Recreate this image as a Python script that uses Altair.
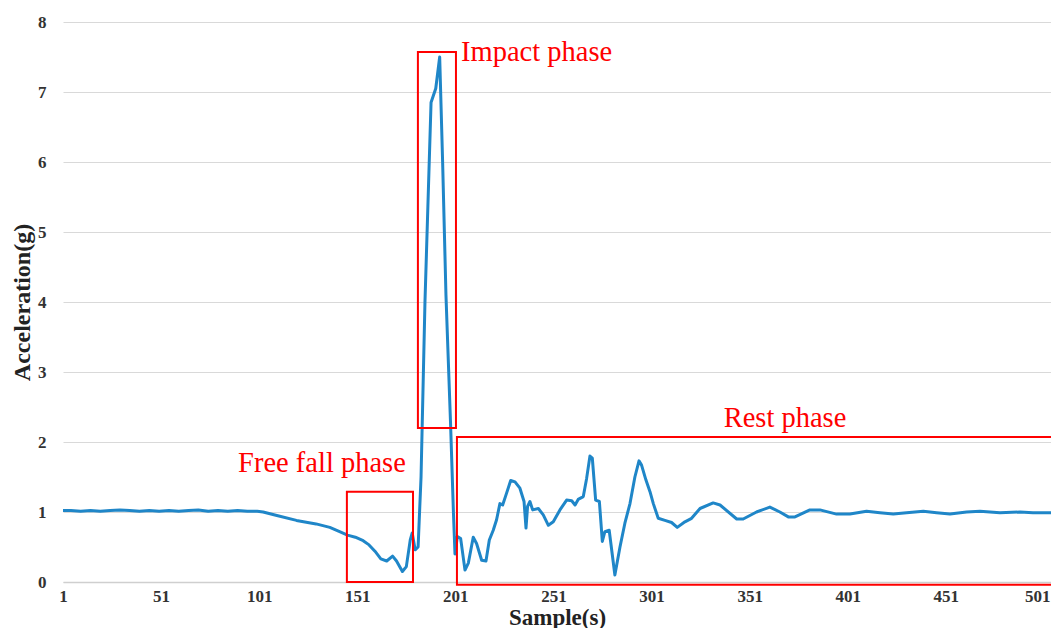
import altair as alt
import pandas as pd

# ---- data ----
samples = [1, 5, 10, 15, 20, 25, 30, 35, 40, 45, 50, 55, 60, 65, 70, 75, 80, 85, 90, 95, 100, 103,
           110, 120, 130, 137, 142, 146, 150, 154, 157, 160, 163, 166, 169, 171, 174, 176, 178, 179, 180.5, 182,
           183.5, 185.5, 188.6, 191, 193, 194.5, 196.2, 198.5, 200, 200.8,
           202, 203.7, 205.9, 207.6, 210.1, 211.8, 214.4, 216.6, 218.3, 220.3, 222, 223.7, 225.1, 227.1, 229.2,
           231.4, 233.9, 236, 237, 237.8, 239, 240.4, 243.3, 245.8, 248.4, 250.9, 254.3, 257.7, 260.3, 262,
           263.6, 266.2, 267.9, 269.6, 270.8, 272.5, 274.4, 275.9, 277.2, 279.4, 282.3, 284.9, 287.4, 290,
           292.5, 294.6, 295.9, 298.1, 300.2, 301.9, 304.4, 307.8, 311.2, 314.1, 318, 321.4, 325.7, 332.4,
           335.9, 344.4, 347.7, 354.5, 361.3, 366.4, 370.7, 374.1, 381.7, 386.8, 395.3, 402.1, 410.6, 417.4,
           424.2, 431, 439.5, 446.3, 453.1, 461.6, 468.4, 478.6, 488.8, 495.4, 508]
acceleration = [1.02, 1.02, 1.01, 1.02, 1.01, 1.02, 1.03, 1.02, 1.01, 1.02, 1.01, 1.02, 1.01, 1.02, 1.03, 1.01, 1.02, 1.01, 1.02, 1.01, 1.01, 1.00,
                0.95, 0.88, 0.83, 0.78, 0.72, 0.67, 0.64, 0.59, 0.53, 0.44, 0.33, 0.30, 0.37, 0.30, 0.15, 0.22, 0.60, 0.70, 0.46, 0.50,
                1.50, 4.00, 6.85, 7.05, 7.50, 6.00, 4.10, 2.30, 1.00, 0.40,
                0.65, 0.62, 0.17, 0.27, 0.64, 0.55, 0.31, 0.30, 0.60, 0.74, 0.89, 1.12, 1.10, 1.27, 1.45,
                1.43, 1.34, 1.15, 0.77, 1.08, 1.15, 1.03, 1.05, 0.96, 0.81, 0.86, 1.03, 1.17, 1.16, 1.10,
                1.18, 1.22, 1.48, 1.80, 1.77, 1.17, 1.15, 0.58, 0.72, 0.74, 0.10, 0.50, 0.84, 1.12,
                1.50, 1.73, 1.67, 1.46, 1.29, 1.12, 0.91, 0.88, 0.85, 0.78, 0.86, 0.91, 1.05, 1.13,
                1.10, 0.90, 0.90, 1.00, 1.07, 1.00, 0.93, 0.93, 1.03, 1.03, 0.97, 0.97, 1.01, 0.99,
                0.97, 0.99, 1.01, 0.99, 0.97, 1.00, 1.01, 0.99, 1.00, 0.99, 0.99]

box_x = [145.7, 181.9, 201.8]
box_x2 = [179.4, 201.3, 520]
box_y = [0.0, 2.2, -0.04]
box_y2 = [1.29, 7.57, 2.07]

label_text = ["Impact phase", "Free fall phase", "Rest phase"]
label_x = [203.9, 133, 369]
label_y = [7.57, 1.70, 2.34]
label_align = ["left", "center", "center"]

x_ticks = [1, 51, 101, 151, 201, 251, 301, 351, 401, 451, 501]
y_ticks = [0, 1, 2, 3, 4, 5, 6, 7, 8]

line_df = pd.DataFrame({"sample": samples, "acc": acceleration})
box_df = pd.DataFrame({"x": box_x, "x2": box_x2, "y": box_y, "y2": box_y2})
lab_df = pd.DataFrame({"t": label_text, "x": label_x, "y": label_y, "a": label_align})

serif = "Liberation Serif"
RED = "#ff0000"

xscale = alt.Scale(domain=[1, 504.6], nice=False, zero=False)
yscale = alt.Scale(domain=[0, 8], nice=False)

last_tick = "datum.value >= 500"

line = alt.Chart(line_df).mark_line(color="#1f86c8", strokeWidth=3, strokeJoin="round").encode(
    x=alt.X("sample:Q", scale=xscale,
            axis=alt.Axis(values=x_ticks, format="d", title="Sample(s)", grid=False, ticks=False,
                          domainColor="#cfcfcf", domainWidth=1.5, labelPadding=6, labelFlush=True,
                          labelAlign={"condition": {"test": last_tick, "value": "right"}, "value": "center"},
                          labelOffset={"condition": {"test": last_tick, "value": 6}, "value": 0},
                          labelFont=serif, labelFontSize=17, labelFontWeight="bold", labelColor="#333333",
                          titleFont=serif, titleFontSize=23, titleFontWeight="bold", titleColor="#222222",
                          titlePadding=2)),
    y=alt.Y("acc:Q", scale=yscale,
            axis=alt.Axis(values=y_ticks, format="d", title="Acceleration(g)", grid=True, gridColor="#d9d9d9",
                          ticks=False, domain=False, labelPadding=17,
                          labelFont=serif, labelFontSize=17, labelFontWeight="bold", labelColor="#333333",
                          titleFont=serif, titleFontSize=24, titleFontWeight="bold", titleColor="#222222",
                          titlePadding=3)),
)

boxes = alt.Chart(box_df).mark_rect(fillOpacity=0, stroke=RED, strokeWidth=2).encode(
    x=alt.X("x:Q", scale=xscale), x2="x2:Q",
    y=alt.Y("y:Q", scale=yscale), y2="y2:Q",
)

texts_left = alt.Chart(lab_df[lab_df.a == "left"]).mark_text(
    font=serif, fontSize=28.5, color=RED, align="left", baseline="middle").encode(
    x=alt.X("x:Q", scale=xscale), y=alt.Y("y:Q", scale=yscale), text="t:N")
texts_center = alt.Chart(lab_df[lab_df.a == "center"]).mark_text(
    font=serif, fontSize=28.5, color=RED, align="center", baseline="middle").encode(
    x=alt.X("x:Q", scale=xscale), y=alt.Y("y:Q", scale=yscale), text="t:N")

chart = alt.layer(line, boxes, texts_left, texts_center).properties(
    width=988, height=560,
    autosize=alt.AutoSizeParams(type="none"),
    padding={"left": 55, "top": 14, "right": 0, "bottom": 46},
).configure_view(stroke=None)

chart.save("out.html", embed_options={"renderer": "svg", "actions": False})
